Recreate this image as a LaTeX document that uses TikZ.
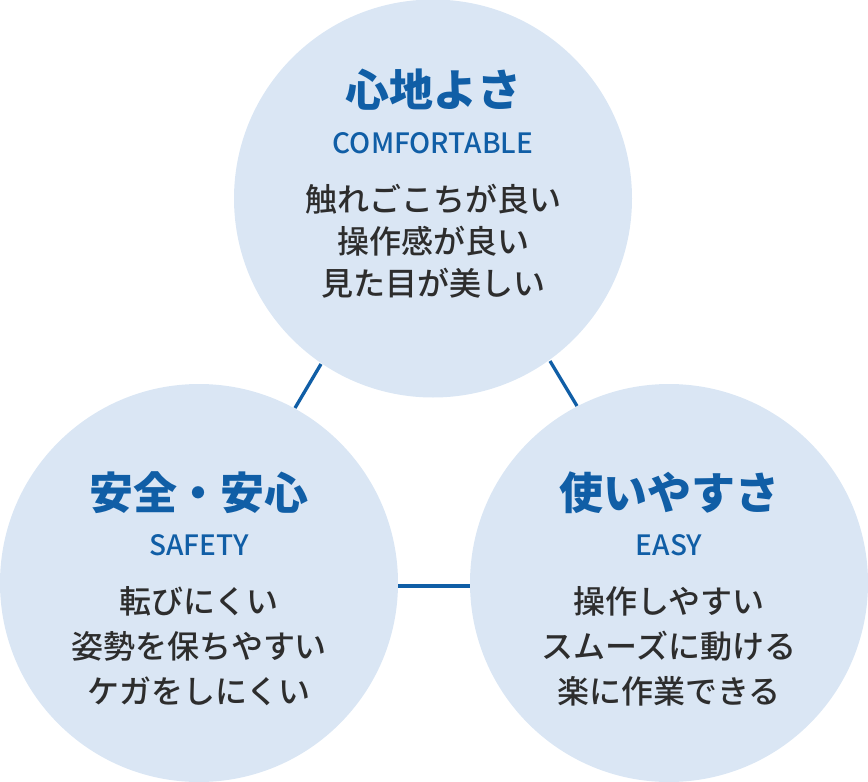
\documentclass[tikz,border=0pt]{standalone}
\usepackage{fontspec}
\setmainfont{Noto Sans CJK JP}
\newfontfamily\medfont{Noto Sans CJK JP Medium}
\definecolor{cfill}{RGB}{218,230,244}
\definecolor{cblue}{RGB}{16,94,166}
\definecolor{ctext}{RGB}{45,45,45}
\begin{document}
\begin{tikzpicture}[x=0.75pt,y=-0.75pt,
  bubble/.style={circle,fill=cfill,inner sep=0pt,minimum size=298.5pt},
  ttl/.style={anchor=base,inner sep=0pt,text=cblue,font=\fontsize{33pt}{33pt}\selectfont\bfseries},
  eng/.style={anchor=base,inner sep=0pt,text=cblue,font=\fontsize{21pt}{21pt}\medfont},
  body/.style={anchor=base,inner sep=0pt,text=ctext,font=\fontsize{24pt}{24pt}\medfont},
  link/.style={draw=cblue,line width=2.5pt}]
\useasboundingbox (0,0) rectangle (868,782);
\node[bubble] (top) at (433,198.5) {};
\node[bubble] (left) at (199,583) {};
\node[bubble] (right) at (669,583) {};
% top
\node[ttl] (t1) at (433,106) {心地よさ};
\node[eng] (t2) at (433,153) {COMFORTABLE};
\node[body] (t3) at (433,211) {触れごこちが良い};
\node[body] (t4) at (433,253) {操作感が良い};
\node[body] (t5) at (433,295) {見た目が美しい};
% left
\node[ttl] (l1) at (199,509) {安全・安心};
\node[eng] (l2) at (199,555) {SAFETY};
\node[body] (l3) at (199,613) {転びにくい};
\node[body] (l4) at (199,658) {姿勢を保ちやすい};
\node[body] (l5) at (199,703) {ケガをしにくい};
% right
\node[ttl] (r1) at (669,509) {使いやすさ};
\node[eng] (r2) at (669,555) {EASY};
\node[body] (r3) at (669,613) {操作しやすい};
\node[body] (r4) at (669,658) {スムーズに動ける};
\node[body] (r5) at (669,703) {楽に作業できる};
% connectors
\coordinate (a1) at (321,364);
\coordinate (a2) at (295,408);
\coordinate (b1) at (550,361);
\coordinate (b2) at (577,406);
\coordinate (c1) at (398,586);
\coordinate (c2) at (470,586);
\draw[link] (a1) -- (a2);
\draw[link] (b1) -- (b2);
\draw[link] (c1) -- (c2);
\end{tikzpicture}
\end{document}
